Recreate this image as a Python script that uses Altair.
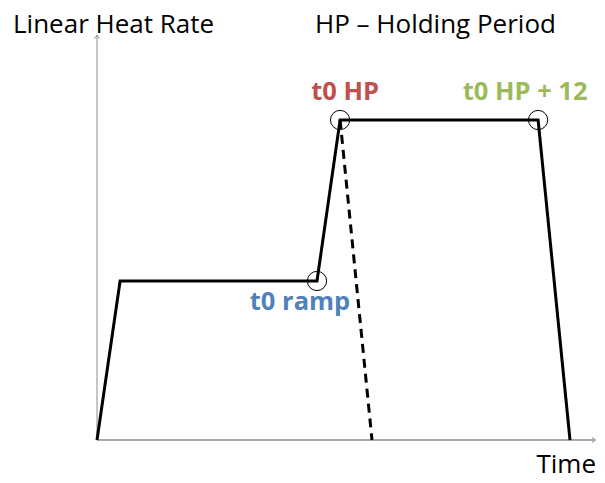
import altair as alt
import pandas as pd

# ---- data ----
path_time = [0, 1.05, 10, 11.05, 20.05, 21.5]
path_rate = [0, 9.94, 9.94, 20, 20, 0]
dash_time = [11.05, 12.5]
dash_rate = [20, 0]
marker_time = [10, 11.05, 20.05]
marker_rate = [9.94, 20, 20]
marker_label = ["t0 ramp", "t0 HP", "t0 HP + 12"]
marker_color = ["#4F81BD", "#C0504D", "#9BBB59"]
axis_time_end = 22.65
axis_rate_end = 25.3
y_title = "Linear Heat Rate"
x_title = "Time"
hp_note = "HP – Holding Period"

W, H = 589, 467
FONT = "Open Sans"
AX_COLOR = "#8c8c8c"

XS = alt.Scale(domain=[-89 / 22, (W - 89) / 22], nice=False, zero=False)
YS = alt.Scale(domain=[(432 - H) / 16, 27], nice=False, zero=False)

path_df = pd.DataFrame({"t": path_time, "r": path_rate, "i": range(len(path_time))})
dash_df = pd.DataFrame({"t": dash_time, "r": dash_rate, "i": range(len(dash_time))})
mark_df = pd.DataFrame({"t": marker_time, "r": marker_rate,
                        "label": marker_label, "color": marker_color})
xaxis_df = pd.DataFrame({"t": [0], "t2": [axis_time_end], "r": [0]})
yaxis_df = pd.DataFrame({"t": [0], "r": [0], "r2": [axis_rate_end]})

def X(f="t"):
    return alt.X(f"{f}:Q", scale=XS, axis=None)

def Y(f="r"):
    return alt.Y(f"{f}:Q", scale=YS, axis=None)

x_axis = alt.Chart(xaxis_df).mark_rule(color=AX_COLOR, strokeWidth=1.5).encode(
    x=X(), x2="t2:Q", y=Y())
y_axis = alt.Chart(yaxis_df).mark_rule(color=AX_COLOR, strokeWidth=1).encode(
    x=X(), y=Y(), y2="r2:Q")
x_arrow = alt.Chart(xaxis_df).mark_point(
    shape="M-1,-0.75L0,0L-1,0.75", size=49, filled=False,
    color=AX_COLOR, strokeWidth=1, opacity=1).encode(x=X("t2"), y=Y())
y_arrow = alt.Chart(yaxis_df).mark_point(
    shape="M-0.75,1L0,0L0.75,1", size=49, filled=False,
    color=AX_COLOR, strokeWidth=1, opacity=1).encode(x=X(), y=Y("r2"))

main_line = alt.Chart(path_df).mark_line(color="black", strokeWidth=3).encode(
    x=X(), y=Y(), order="i:Q")
dash_line = alt.Chart(dash_df).mark_line(
    color="black", strokeWidth=3, strokeDash=[9, 6]).encode(
    x=X(), y=Y(), order="i:Q")
circles = alt.Chart(mark_df).mark_point(
    shape="circle", size=370, filled=False, color="black",
    strokeWidth=1, opacity=1).encode(x=X(), y=Y())

offsets = {"t0 ramp": (-17, 29), "t0 HP": (5, -20), "t0 HP + 12": (-13, -20)}
label_layers = []
for lab, (dx, dy) in offsets.items():
    label_layers.append(
        alt.Chart(mark_df).transform_filter(alt.datum.label == lab).mark_text(
            font=FONT, fontSize=25.5, fontWeight="bold", align="center",
            baseline="alphabetic", dx=dx, dy=dy).encode(
            x=X(), y=Y(), text="label:N",
            color=alt.Color("color:N", scale=None)))

def note(txt, x, y, align):
    return alt.Chart(pd.DataFrame({"s": [txt]})).mark_text(
        font=FONT, fontSize=26, color="black", align=align,
        baseline="alphabetic").encode(x=alt.value(x), y=alt.value(y), text="s:N")

texts = [note(y_title, 5, 25, "left"), note(hp_note, 307, 25, "left"),
         note(x_title, 588, 465, "right")]

chart = alt.layer(
    x_axis, y_axis, x_arrow, y_arrow, dash_line, main_line, circles,
    *label_layers, *texts
).properties(
    width=W, height=H, padding=0, autosize=alt.AutoSizeParams(type="none")
).configure_view(stroke=None)

chart.save("out.html", embed_options={"renderer": "svg", "actions": False})
